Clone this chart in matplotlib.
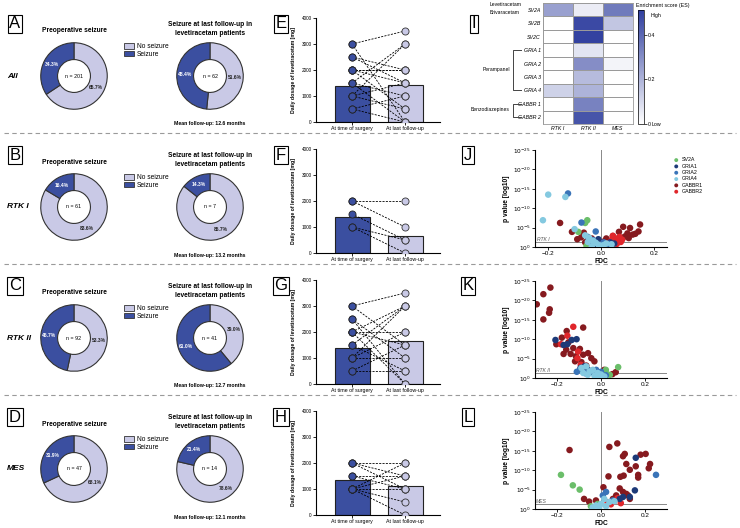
import numpy as np
import matplotlib.pyplot as plt
from matplotlib.patches import Patch
from matplotlib.lines import Line2D
from matplotlib.colors import LinearSegmentedColormap

plt.rcParams['font.family'] = ['Liberation Sans', 'DejaVu Sans']

# ---- donut data (no seizure %, seizure %) ----
groups = ['All', 'RTK I', 'RTK II', 'MES']
preop_pct = [[65.7, 34.3], [83.6, 16.4], [53.3, 46.7], [68.1, 31.9]]
preop_n = [201, 61, 92, 47]
follow_pct = [[51.6, 48.4], [85.7, 14.3], [39.0, 61.0], [78.6, 21.4]]
follow_n = [62, 7, 41, 14]
follow_months = [12.6, 13.2, 12.7, 12.1]

# ---- levetiracetam dosage (mg), paired pre / post ----
E_pre = [3000, 3000, 2500, 2000, 2000, 2000, 1500, 1500, 1500, 1000, 1000, 1000, 500, 500, 2500, 2000]
E_post = [3500, 0, 1500, 2000, 1500, 500, 3000, 1000, 0, 3000, 1500, 500, 1000, 0, 2000, 2000]
F_pre = [2000, 2000, 1500, 1000, 1000]
F_post = [2000, 1000, 500, 0, 500]
G_pre = [3000, 3000, 2500, 2000, 2000, 2000, 1500, 1500, 1000, 1000, 1000, 500, 500, 2500, 2000]
G_post = [3500, 1500, 1000, 2000, 1500, 0, 3000, 500, 3000, 1000, 2000, 500, 1500, 0, 3000]
H_pre = [2000, 2000, 2000, 1500, 1500, 1000, 1000, 1000, 1000, 1000]
H_post = [2000, 1500, 1000, 1500, 1000, 2000, 1500, 1000, 500, 0]
dose_means = [[1400, 1430], [1400, 650], [1400, 1650], [1330, 1100]]

# ---- heatmap (enrichment score) ----
genes = ['SV2A', 'SV2B', 'SV2C', 'GRIA 1', 'GRIA 2', 'GRIA 3', 'GRIA 4', 'GABBR 1', 'GABBR 2']
subtypes = ['RTK I', 'RTK II', 'MES']
es = [[0.25, 0.05, 0.35],
      [0.00, 0.48, 0.15],
      [0.00, 0.50, 0.00],
      [0.00, 0.07, 0.00],
      [0.00, 0.30, 0.03],
      [0.00, 0.18, 0.00],
      [0.12, 0.20, 0.00],
      [0.00, 0.33, 0.00],
      [0.00, 0.45, 0.00]]

# ---- volcano plots: FDC, -log10(p) ----
vgenes = ['SV2A', 'GRIA1', 'GRIA2', 'GRIA4', 'GABBR1', 'GABBR2']
J = {
    'SV2A': ([-0.052, -0.06, -0.086, -0.055, -0.03, 0.01], [6.9, 6.2, 3.9, 0.3, 1.0, 0.5]),
    'GRIA1': ([-0.04, -0.02, 0.0, 0.02, 0.035, -0.01, 0.05], [1.5, 0.8, 0.3, 0.6, 1.2, 2.0, 0.9]),
    'GRIA2': ([-0.125, -0.074, -0.02, -0.05, -0.03, 0.01, 0.03], [13.8, 6.3, 4.0, 2.6, 1.8, 1.2, 0.8]),
    'GRIA4': ([-0.2, -0.135, -0.22, -0.1, -0.06, -0.045, -0.03, -0.02, -0.01, 0.0, 0.01, 0.02, 0.04, -0.05, -0.035],
              [13.5, 12.9, 6.9, 4.6, 3.0, 2.4, 1.6, 1.1, 0.6, 0.3, 0.5, 0.9, 0.7, 1.3, 0.2]),
    'GABBR1': ([-0.155, -0.11, -0.065, -0.09, -0.075, -0.05, -0.035, 0.084, 0.11, 0.148, 0.142, 0.12, 0.045, 0.068,
                0.02, 0.03, 0.055, 0.075, 0.09, 0.1, 0.06, 0.035, 0.01, -0.02, -0.06, 0.13, 0.105],
               [6.2, 3.9, 3.7, 2.0, 2.5, 1.7, 2.2, 5.2, 4.9, 5.8, 4.0, 3.2, 2.8, 3.9,
                2.2, 1.5, 1.9, 2.4, 2.7, 3.5, 1.2, 0.9, 1.4, 1.0, 1.2, 3.4, 2.3]),
    'GABBR2': ([0.04, 0.055, 0.065, 0.07, 0.08, 0.05, 0.06, 0.03, 0.075, 0.045],
               [1.8, 2.2, 1.5, 2.6, 1.9, 1.1, 0.8, 1.0, 1.3, 2.9]),
}
K = {
    'SV2A': ([0.022, 0.078, 0.022, 0.04], [2.1, 2.8, 1.3, 0.8]),
    'GRIA1': ([-0.207, -0.17, -0.133, -0.153, -0.111, -0.093, -0.059, -0.075, -0.04],
              [9.8, 8.5, 9.8, 8.7, 10.0, 2.6, 2.1, 3.0, 1.5]),
    'GRIA2': ([-0.096, -0.022, 0.022, -0.11, -0.07, 0.0], [2.1, 2.1, 0.7, 1.6, 1.2, 1.6]),
    'GRIA4': ([-0.089, -0.067, -0.052, -0.037, -0.015, 0.0, 0.015, -0.081, -0.03, -0.06, -0.02, 0.005],
              [2.6, 3.0, 1.7, 2.1, 1.3, 0.9, 0.4, 1.3, 0.6, 0.8, 0.3, 0.2]),
    'GABBR1': ([-0.23, -0.262, -0.292, -0.233, -0.236, -0.262, -0.156, -0.081, -0.203, -0.178, -0.148, -0.158, -0.126,
                -0.096, -0.138, -0.17, -0.114, -0.081, -0.059, -0.03, -0.044, -0.118, -0.089, -0.067, 0.067, 0.052, 0.015],
               [23.3, 21.6, 19.0, 17.7, 16.8, 15.1, 12.1, 13.0, 8.7, 10.4, 9.2, 7.3, 7.7,
                7.5, 6.2, 6.2, 5.6, 6.0, 6.4, 4.3, 5.1, 4.3, 4.1, 3.2, 1.5, 1.0, 2.1]),
    'GABBR2': ([-0.126, -0.153, -0.182, -0.104, -0.107, -0.092], [13.2, 10.9, 8.7, 6.8, 5.1, 3.4]),
}
L = {
    'SV2A': ([-0.182, -0.128, -0.097, -0.046, -0.015], [8.8, 6.1, 5.0, 0.7, 1.3]),
    'GRIA1': ([0.158, 0.154, 0.1, 0.085, 0.131], [13.2, 4.8, 3.1, 2.6, 3.1]),
    'GRIA2': ([0.25, 0.023, 0.008, 0.054], [8.8, 4.4, 3.5, 2.2]),
    'GRIA4': ([0.015, 0.038, 0.061, 0.0, -0.023, 0.023, -0.038, -0.008], [2.6, 1.8, 2.0, 1.3, 0.9, 0.7, 0.4, 0.4]),
    'GABBR1': ([-0.143, 0.074, 0.038, 0.108, 0.1, 0.18, 0.203, 0.115, 0.223, 0.217, 0.131, 0.158, 0.169, 0.169,
                0.103, 0.088, 0.034, 0.011, 0.085, 0.1, 0.123, 0.069, 0.054, -0.077, -0.054, -0.023, 0.131, 0.115],
               [15.2, 16.9, 16.0, 14.2, 13.6, 14.0, 14.2, 11.6, 11.6, 10.5, 10.1, 11.0, 8.8, 8.1,
                8.6, 8.3, 8.4, 5.6, 5.3, 4.4, 3.5, 3.5, 2.6, 2.6, 1.9, 2.2, 2.6, 3.9]),
    'GABBR2': ([0.06, 0.075, 0.09, 0.045, 0.03], [2.0, 2.8, 1.5, 1.2, 1.7]),
}

dark = '#3B4FA0'
light = '#C9C9E6'
vcolors = {'SV2A': '#6BBE6A', 'GRIA1': '#1D3A78', 'GRIA2': '#3A74B8',
           'GRIA4': '#84C9E0', 'GABBR1': '#861A1F', 'GABBR2': '#E0262B'}
vz = {'SV2A': 3, 'GRIA1': 3, 'GRIA2': 3, 'GRIA4': 3.2, 'GABBR1': 2, 'GABBR2': 2.1}

W, H = 740, 528
fig = plt.figure(figsize=(7.4, 5.28), dpi=100)
fig.patch.set_facecolor('white')


def fx(x):
    return x / W


def fy(y):
    return 1 - y / H


def ax_px(x0, y0, x1, y1):
    return fig.add_axes([x0 / W, 1 - y1 / H, (x1 - x0) / W, (y1 - y0) / H])


def letter(x, y, s):
    fig.text(fx(x), fy(y), s, fontsize=12, ha='center', va='center',
             bbox=dict(boxstyle='square,pad=0.1', fc='white', ec='black', lw=0.8))


def donut(cx, cy, vals, n):
    ax = ax_px(cx - 35, cy - 35, cx + 35, cy + 35)
    ax.pie(vals, colors=[light, dark], startangle=90, counterclock=False, radius=0.95,
           wedgeprops=dict(width=0.48, edgecolor='#333333', linewidth=0.8))
    ang = 90
    for v, c in zip(vals, ['#222222', 'white']):
        mid = np.radians(ang - v / 100 * 180)
        ax.text(0.72 * np.cos(mid), 0.72 * np.sin(mid), f'{v:.1f}%', ha='center', va='center',
                fontsize=3.6, color=c, fontweight='bold')
        ang -= v / 100 * 360
    ax.text(0, 0, f'n = {n}', ha='center', va='center', fontsize=3.8)
    ax.set_xlim(-1, 1)
    ax.set_ylim(-1, 1)
    ax.set_aspect('equal')


def dose_panel(y0, pre, post, means):
    ax = ax_px(316, y0 + 18, 440, y0 + 122)
    ax.bar([0, 1], means, width=0.66, color=[dark, light], edgecolor='#222222', lw=0.8, zorder=1)
    for a, b in zip(pre, post):
        ax.plot([0, 1], [a, b], color='black', lw=0.6, dashes=(2.5, 1.5), zorder=3)
    ax.scatter(np.zeros(len(pre)), pre, s=26, c=dark, edgecolors='#222222', linewidths=0.6, zorder=4)
    ax.scatter(np.ones(len(post)), post, s=26, c=light, edgecolors='#333333', linewidths=0.6, zorder=4)
    ax.set_xlim(-0.68, 1.66)
    ax.set_ylim(0, 4000)
    ax.set_yticks([0, 1000, 2000, 3000, 4000])
    ax.set_xticks([0, 1])
    ax.set_xticklabels(['At time of surgery', 'At last follow-up'], fontsize=3.8)
    ax.tick_params(axis='y', labelsize=3.4, length=2, width=0.6, pad=1)
    ax.tick_params(axis='x', length=2, width=0.6, pad=1)
    for s in ['top', 'right']:
        ax.spines[s].set_visible(False)
    for s in ['left', 'bottom']:
        ax.spines[s].set_linewidth(0.8)
    ax.set_ylabel('Daily dosage of levetiracetam [mg]', fontsize=3.7, fontweight='bold')
    ax.yaxis.set_label_coords(-0.16, 0.5)


def volcano(y0, xlim, data, tag, legend=False):
    ax = ax_px(535, y0 + 19, 667, y0 + 116)
    for g in vgenes:
        x, y = data[g]
        ax.scatter(x, y, s=22, c=vcolors[g], edgecolors='none', zorder=vz[g], label=g)
    ax.axvline(0, color='#888888', lw=0.7, zorder=1)
    ax.axhline(1.3, color='#888888', lw=0.7, zorder=1)
    ax.text(xlim[0] + 0.006, 1.6, tag, fontsize=3.6, style='italic', color='#555555')
    ax.set_xlim(xlim)
    ax.set_ylim(0, 25)
    ax.set_yticks([0, 5, 10, 15, 20, 25])
    ax.set_yticklabels(['$10^{0}$', '$10^{-5}$', '$10^{-10}$', '$10^{-15}$', '$10^{-20}$', '$10^{-25}$'])
    ax.set_xticks([-0.2, 0.0, 0.2])
    ax.set_xticklabels(['\u22120.2', '0.0', '0.2'])
    ax.tick_params(axis='x', labelsize=4.6, length=2, width=0.6, pad=1)
    ax.tick_params(axis='y', labelsize=4.2, length=2, width=0.6, pad=1)
    for s in ['top', 'right']:
        ax.spines[s].set_visible(False)
    for s in ['left', 'bottom']:
        ax.spines[s].set_linewidth(0.8)
    ax.set_xlabel('FDC', fontsize=4.8, fontweight='bold', labelpad=1)
    ax.set_ylabel('p value [log10]', fontsize=4.8, fontweight='bold', labelpad=2)
    if legend:
        ax.legend(loc='upper left', bbox_to_anchor=(1.01, 0.95), fontsize=3.8, frameon=False,
                  handletextpad=0.1, labelspacing=0.25, markerscale=0.6, borderpad=0)


doses = [(E_pre, E_post), (F_pre, F_post), (G_pre, G_post), (H_pre, H_post)]
row_top = [0, 131, 262, 393]

for k, y0 in enumerate(row_top):
    letter(15, y0 + 24, 'ABCD'[k])
    letter(281, y0 + 24, 'EFGH'[k])
    fig.text(fx(7), fy(y0 + 76), groups[k], fontsize=6, fontweight='bold', style='italic',
             ha='left', va='center')
    fig.text(fx(74), fy(y0 + 31), 'Preoperative seizure', fontsize=4.8, fontweight='bold',
             ha='center', va='center')
    fig.text(fx(210), fy(y0 + 29), 'Seizure at last follow-up in\nlevetiracetam patients', fontsize=4.8,
             fontweight='bold', ha='center', va='center', linespacing=1.25)
    fig.text(fx(210), fy(y0 + 124), f'Mean follow-up: {follow_months[k]} months', fontsize=3.7,
             fontweight='bold', ha='center', va='center')
    donut(74, y0 + 76, preop_pct[k], preop_n[k])
    donut(210, y0 + 76, follow_pct[k], follow_n[k])
    fig.legend(handles=[Patch(fc=light, ec='#333333', lw=0.6, label='No seizure'),
                        Patch(fc=dark, ec='#333333', lw=0.6, label='Seizure')],
               loc='upper left', bbox_to_anchor=(fx(121), fy(y0 + 40)), fontsize=4.8, frameon=False,
               handlelength=1.5, handleheight=0.8, handletextpad=0.4, labelspacing=0.05, borderpad=0)
    dose_panel(y0, doses[k][0], doses[k][1], dose_means[k])

# separators
for y in [133, 264, 395]:
    fig.add_artist(Line2D([fx(4), fx(736)], [fy(y), fy(y)], color='#9a9a9a', lw=0.8, dashes=(4, 3)))

# ---- heatmap I ----
letter(474, 24, 'I')
cmap = LinearSegmentedColormap.from_list('es', ['#FFFFFF', '#2F3E9E'])
hax = ax_px(543, 3, 633, 124)
mesh = hax.pcolormesh(np.array(es), cmap=cmap, vmin=0, vmax=0.51, edgecolors='#9a9a9a', linewidth=0.6)
hax.set_ylim(len(genes), 0)
hax.set_yticks(np.arange(len(genes)) + 0.5)
hax.set_yticklabels(genes, fontsize=3.8, style='italic')
hax.set_xticks(np.arange(len(subtypes)) + 0.5)
hax.set_xticklabels(subtypes, fontsize=3.8, style='italic')
hax.tick_params(length=0, pad=1.5)
for s in hax.spines.values():
    s.set_linewidth(0.6)
    s.set_color('#9a9a9a')

cax = ax_px(638, 10, 644, 124)
cb = fig.colorbar(mesh, cax=cax, ticks=[0, 0.2, 0.4])
cb.ax.set_yticklabels(['0', '0.2', '0.4'])
cb.ax.tick_params(labelsize=3.8, length=2, width=0.5, pad=1)
cb.outline.set_linewidth(0.5)
fig.text(fx(636), fy(5), 'Enrichment score (ES)', fontsize=3.8, ha='left', va='center')
fig.text(fx(651), fy(15), 'High', fontsize=3.8, ha='left', va='center')
fig.text(fx(652), fy(124), 'Low', fontsize=3.8, ha='left', va='center')

fig.text(fx(490), fy(5), 'Levetiracetam', fontsize=3.6, ha='left', va='center')
fig.text(fx(490), fy(13), 'Brivaracetam', fontsize=3.6, ha='left', va='center')
fig.text(fx(510), fy(70), 'Perampanel', fontsize=3.6, ha='right', va='center')
fig.text(fx(510), fy(110), 'Benzodiazepines', fontsize=3.6, ha='right', va='center')
for ya, yb in [(50, 90), (104, 117)]:
    fig.add_artist(Line2D([fx(521), fx(513), fx(513), fx(521)], [fy(ya), fy(ya), fy(yb), fy(yb)],
                          color='#444444', lw=0.7))

# ---- volcano J, K, L ----
letter(468, 131 + 24, 'J')
letter(468, 262 + 24, 'K')
letter(468, 393 + 24, 'L')
volcano(131, (-0.25, 0.25), J, 'RTK I', legend=True)
volcano(262, (-0.3, 0.3), K, 'RTK II')
volcano(393, (-0.3, 0.3), L, 'MES')

fig.savefig('out.png', dpi=100)
